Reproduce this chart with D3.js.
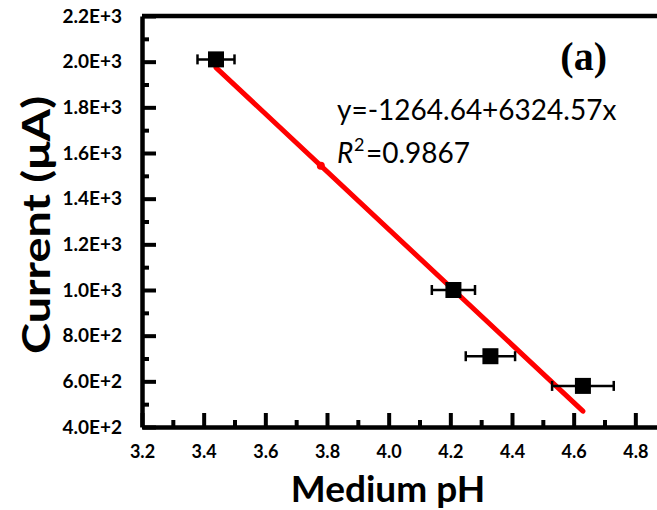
<!DOCTYPE html>
<html>
<head>
<meta charset="utf-8">
<script src="https://cdn.jsdelivr.net/npm/d3@7"></script>
<style>
  body { margin: 0; background: #fff; }
  svg { display: block; }
</style>
</head>
<body>
<div id="vis"></div>
<script>
// frame size
const FRAME_WIDTH = 657;
const FRAME_HEIGHT = 510;

// plot area in pixels (right edge runs past the window)
const PLOT = {left: 142, top: 16, right: 697, bottom: 427};

// data
const ph = [3.44, 4.21, 4.33, 4.63];
const phErr = [0.06, 0.07, 0.08, 0.10];
const current = [2010, 1000, 710, 580];

// linear fit shown on the chart
const fitIntercept = 6324.57;
const fitSlope = -1264.64;
const fitRange = [3.44, 4.63];
const fitMarkX = [3.78];

// axis ticks
const xTicks = [3.2, 3.4, 3.6, 3.8, 4.0, 4.2, 4.4, 4.6, 4.8];
const xTickLabels = ["3.2", "3.4", "3.6", "3.8", "4.0", "4.2", "4.4", "4.6", "4.8"];
const xMinorTicks = [3.3, 3.5, 3.7, 3.9, 4.1, 4.3, 4.5, 4.7, 4.9];
const yTicks = [400, 600, 800, 1000, 1200, 1400, 1600, 1800, 2000, 2200];
const yTickLabels = ["4.0E+2", "6.0E+2", "8.0E+2", "1.0E+3", "1.2E+3", "1.4E+3", "1.6E+3", "1.8E+3", "2.0E+3", "2.2E+3"];
const yMinorTicks = [500, 700, 900, 1100, 1300, 1500, 1700, 1900, 2100];

const FONT = "Lato, 'Open Sans', sans-serif";

const FRAME = d3.select("#vis")
                .append("svg")
                  .attr("width", FRAME_WIDTH)
                  .attr("height", FRAME_HEIGHT);

const X_SCALE = d3.scaleLinear()
                  .domain([3.2, 5.0])
                  .range([PLOT.left, PLOT.right]);

const Y_SCALE = d3.scaleLinear()
                  .domain([400, 2200])
                  .range([PLOT.bottom, PLOT.top]);

// frame border on top and right
FRAME.append("path")
     .attr("d", "M" + PLOT.left + "," + PLOT.top + "H" + PLOT.right + "V" + PLOT.bottom)
     .attr("fill", "none")
     .attr("stroke", "#000")
     .attr("stroke-width", 4.5);

// minor ticks
FRAME.append("g")
     .attr("transform", "translate(0," + PLOT.bottom + ")")
     .call(d3.axisBottom(X_SCALE).tickValues(xMinorTicks).tickSize(-7).tickFormat(""))
     .call(g => g.select(".domain").remove())
     .call(g => g.selectAll("line").attr("stroke-width", 4));

FRAME.append("g")
     .attr("transform", "translate(" + PLOT.left + ",0)")
     .call(d3.axisLeft(Y_SCALE).tickValues(yMinorTicks).tickSize(-7).tickFormat(""))
     .call(g => g.select(".domain").remove())
     .call(g => g.selectAll("line").attr("stroke-width", 4));

// major ticks + labels
FRAME.append("g")
     .attr("transform", "translate(0," + PLOT.bottom + ")")
     .call(d3.axisBottom(X_SCALE).tickValues(xTicks).tickSizeInner(-14).tickSizeOuter(0)
            .tickPadding(18).tickFormat((d, i) => xTickLabels[i]))
     .attr("font-size", 18)
     .attr("font-family", FONT)
     .attr("font-weight", "bold")
     .call(g => g.select(".domain").attr("stroke-width", 4.5))
     .call(g => g.selectAll("line").attr("stroke-width", 4));

FRAME.append("g")
     .attr("transform", "translate(" + PLOT.left + ",0)")
     .call(d3.axisLeft(Y_SCALE).tickValues(yTicks).tickSizeInner(-14).tickSizeOuter(0)
            .tickPadding(20).tickFormat((d, i) => yTickLabels[i]))
     .attr("font-size", 19)
     .attr("font-family", FONT)
     .attr("font-weight", "bold")
     .call(g => g.select(".domain").attr("stroke-width", 4.5))
     .call(g => g.selectAll("line").attr("stroke-width", 4));

// fit line
FRAME.append("line")
     .attr("x1", X_SCALE(fitRange[0]))
     .attr("y1", Y_SCALE(fitIntercept + fitSlope * fitRange[0]))
     .attr("x2", X_SCALE(fitRange[1]))
     .attr("y2", Y_SCALE(fitIntercept + fitSlope * fitRange[1]))
     .attr("stroke", "#ff0000")
     .attr("stroke-width", 5)
     .attr("stroke-linecap", "round");

FRAME.selectAll(".fit-mark")
     .data(fitMarkX)
     .enter()
     .append("circle")
       .attr("cx", (d) => X_SCALE(d))
       .attr("cy", (d) => Y_SCALE(fitIntercept + fitSlope * d))
       .attr("r", 4)
       .attr("fill", "#ff0000");

// error bars and points
const points = ph.map((d, i) => ({x: d, e: phErr[i], y: current[i]}));

const bars = FRAME.selectAll(".err")
                  .data(points)
                  .enter()
                  .append("g")
                    .attr("class", "err")
                    .attr("stroke", "#000")
                    .attr("stroke-width", 2.5);

bars.append("line")
    .attr("x1", (d) => X_SCALE(d.x - d.e))
    .attr("x2", (d) => X_SCALE(d.x + d.e))
    .attr("y1", (d) => Y_SCALE(d.y))
    .attr("y2", (d) => Y_SCALE(d.y));

bars.selectAll(".cap")
    .data((d) => [d.x - d.e, d.x + d.e].map(v => ({v: v, y: d.y})))
    .enter()
    .append("line")
      .attr("x1", (d) => X_SCALE(d.v))
      .attr("x2", (d) => X_SCALE(d.v))
      .attr("y1", (d) => Y_SCALE(d.y) - 5)
      .attr("y2", (d) => Y_SCALE(d.y) + 5);

FRAME.selectAll(".pt")
     .data(points)
     .enter()
     .append("rect")
       .attr("x", (d) => X_SCALE(d.x) - 8)
       .attr("y", (d) => Y_SCALE(d.y) - 8)
       .attr("width", 16)
       .attr("height", 16)
       .attr("fill", "#000");

// axis titles
FRAME.append("text")
     .attr("x", 388)
     .attr("y", 502)
     .attr("text-anchor", "middle")
     .attr("font-family", FONT)
     .attr("font-weight", "bold")
     .attr("font-size", "37px")
     .text("Medium pH");

FRAME.append("text")
     .attr("transform", "translate(50,225) rotate(-90)")
     .attr("text-anchor", "middle")
     .attr("font-family", FONT)
     .attr("font-weight", "bold")
     .attr("font-size", "38px")
     .attr("textLength", 258)
     .attr("lengthAdjust", "spacingAndGlyphs")
     .text("Current (μA)");

// panel label and fit text
FRAME.append("text")
     .attr("x", 607)
     .attr("y", 70)
     .attr("text-anchor", "end")
     .attr("font-family", "'Liberation Serif', 'Times New Roman', serif")
     .attr("font-weight", "bold")
     .attr("font-size", "40px")
     .text("(a)");

FRAME.append("text")
     .attr("x", 337)
     .attr("y", 120)
     .attr("font-family", FONT)
     .attr("font-size", "28px")
     .text("y=-1264.64+6324.57x");

const r2 = FRAME.append("text")
                .attr("y", 163)
                .attr("font-family", FONT)
                .attr("font-size", "28px");
r2.append("tspan").attr("x", 337).attr("font-style", "italic").text("R");
r2.append("tspan").attr("x", 354).attr("font-size", "18px").attr("dy", -12).text("2");
r2.append("tspan").attr("x", 366).attr("dy", 12).text("=0.9867");
</script>
</body>
</html>
